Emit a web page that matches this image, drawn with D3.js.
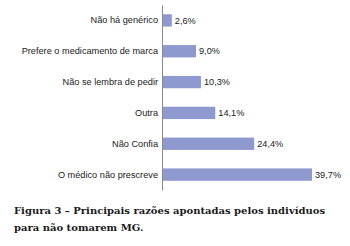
<!DOCTYPE html>
<html>
<head>
<meta charset="utf-8">
<script src="https://cdn.jsdelivr.net/npm/d3@7"></script>
<style>
  body { margin: 0; background: #fff; }
  svg { display: block; }
</style>
</head>
<body>
<svg id="chart"></svg>
<script>
// reasons, top to bottom, and their share in percent
const reasons = [
  'Não há genérico',
  'Prefere o medicamento de marca',
  'Não se lembra de pedir',
  'Outra',
  'Não Confia',
  'O médico não prescreve'
];
const shares = [2.6, 9.0, 10.3, 14.1, 24.4, 39.7];
const captionLines = [
  'Figura 3 – Principais razões apontadas pelos indivíduos',
  'para não tomarem MG.'
];

const data = reasons.map((r, i) => ({ reason: r, value: shares[i] }));

const width = 350, height = 246;
const margin = { top: 5, left: 162, right: 18, bottom: 56 };

const svg = d3.select('#chart')
  .attr('width', width)
  .attr('height', height);

const xScale = d3.scaleLinear()
  .domain([0, 39.7])
  .range([margin.left, margin.left + 150]);

const yScale = d3.scaleBand()
  .domain(reasons)
  .range([margin.top, height - margin.bottom])
  .paddingInner(0.6)
  .paddingOuter(0.3);

// bars
svg.append('g')
  .selectAll('rect')
  .data(data)
  .join('rect')
    .attr('x', xScale(0))
    .attr('y', d => yScale(d.reason))
    .attr('width', d => xScale(d.value) - xScale(0))
    .attr('height', yScale.bandwidth())
    .attr('fill', '#8e99cf');

// value labels
svg.append('g')
  .selectAll('text')
  .data(data)
  .join('text')
    .attr('x', d => xScale(d.value) + 3)
    .attr('y', d => yScale(d.reason) + yScale.bandwidth() / 2)
    .attr('dy', '0.35em')
    .style('font', '9.2px "Liberation Sans", Arial, sans-serif')
    .style('fill', '#222')
    .text(d => d.value.toFixed(1).replace('.', ',') + '%');

// category axis
const yAxis = d3.axisLeft(yScale)
  .tickSize(0)
  .tickPadding(4);

const yAxisG = svg.append('g')
  .attr('transform', `translate(${margin.left},0)`)
  .call(yAxis);

yAxisG.select('.domain')
  .attr('stroke', '#8a8a8a')
  .attr('stroke-width', 1);

yAxisG.selectAll('text')
  .style('font', '9.2px "Liberation Sans", Arial, sans-serif')
  .style('fill', '#222');

// caption
svg.append('g')
  .selectAll('text')
  .data(captionLines)
  .join('text')
    .attr('x', 14)
    .attr('y', (d, i) => 214 + i * 17)
    .style('font', 'bold 10px "DejaVu Serif", serif')
    .style('fill', '#1a1a1a')
    .text(d => d);
</script>
</body>
</html>
